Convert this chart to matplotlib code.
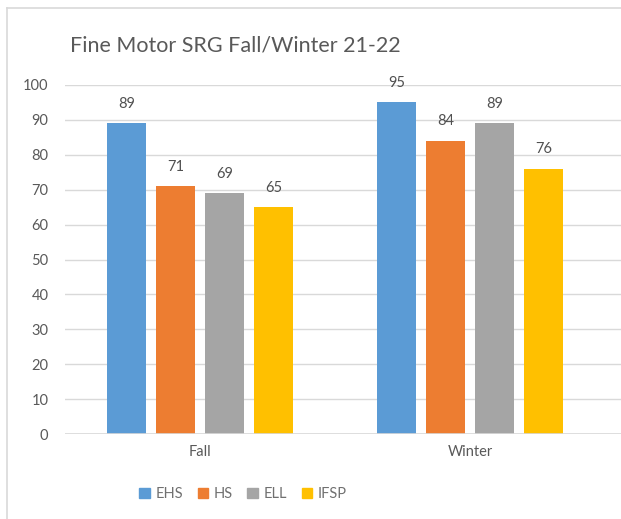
import numpy as np
import matplotlib
matplotlib.use("Agg")
import matplotlib.pyplot as plt
from matplotlib.lines import Line2D
from matplotlib.patches import Patch

plt.rcParams["font.family"] = ["Lato", "DejaVu Sans"]

# data
categories = ["Fall", "Winter"]
series = ["EHS", "HS", "ELL", "IFSP"]
values = {
    "EHS": [89, 95],
    "HS": [71, 84],
    "ELL": [69, 89],
    "IFSP": [65, 76],
}
colors = ["#5b9bd5", "#ed7d31", "#a5a5a5", "#ffc000"]
y_ticks = [0, 10, 20, 30, 40, 50, 60, 70, 80, 90, 100]

W, H = 621, 519
fig = plt.figure(figsize=(W / 100, H / 100), dpi=100)
ax = fig.add_axes([65 / W, 1 - 434 / H, (W - 65) / W, (434 - 85) / H])

x = np.arange(len(categories))
bar_w = 39 / 270
step = 49 / 270
offsets = (np.arange(len(series)) - 1.5) * step

for i, s in enumerate(series):
    bars = ax.bar(x + offsets[i], values[s], width=bar_w, color=colors[i],
                  zorder=3, label=s)
    for b, v in zip(bars, values[s]):
        ax.text(b.get_x() + b.get_width() / 2, v + 3.6, str(v),
                ha="center", va="bottom", fontsize=10.5, color="#505050")

ax.set_xlim(-0.5, 1.5 + 16 / 270)
ax.set_ylim(0, 100)
ax.set_yticks(y_ticks)
ax.yaxis.grid(True, color="#d9d9d9", lw=1, zorder=0)
for sp in ax.spines.values():
    sp.set_visible(False)
ax.axhline(0, color="#d9d9d9", lw=1.2, zorder=4)
ax.tick_params(axis="y", length=0, pad=12, labelsize=10.5, labelcolor="#595959")
ax.tick_params(axis="x", length=0, pad=8, labelsize=10.5, labelcolor="#595959")
ax.set_xticks(x)
ax.set_xticklabels(categories)

fig.text(70 / W, 1 - 45 / H, "Fine Motor SRG Fall/Winter 21-22",
         fontsize=15.5, color="#595959", ha="left", va="center")

handles = [Patch(color=c, label=s) for c, s in zip(colors, series)]
fig.legend(handles=handles, loc="center", bbox_to_anchor=(243 / W, 1 - 494 / H),
           ncol=4, frameon=False, fontsize=10.5, labelcolor="#707070",
           handlelength=0.7, handleheight=0.7, handletextpad=0.4,
           columnspacing=1.0)

# chart frame (partly cut off at the right and bottom)
fig.add_artist(Line2D([7 / W, 7 / W], [0, 1 - 8 / H], transform=fig.transFigure,
                      color="#d9d9d9", lw=1.2))
fig.add_artist(Line2D([7 / W, 1], [1 - 8 / H, 1 - 8 / H], transform=fig.transFigure,
                      color="#d9d9d9", lw=1.2))

fig.savefig("out.png", dpi=100)
